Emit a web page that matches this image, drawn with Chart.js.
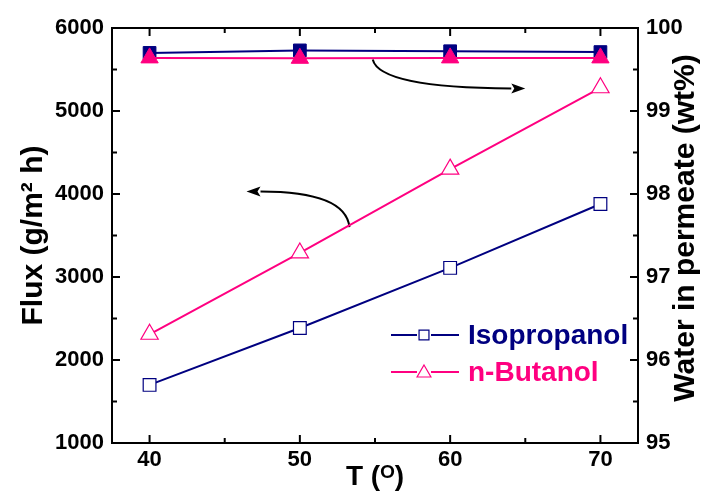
<!DOCTYPE html>
<html>
<head>
<meta charset="utf-8">
<script src="https://cdn.jsdelivr.net/npm/chart.js@4/dist/chart.umd.min.js"></script>
<style>
  html, body { margin: 0; padding: 0; background: #fff; }
  #wrap { width: 702px; height: 494px; }
</style>
</head>
<body>
<div id="wrap"><canvas id="chart" width="702" height="494"></canvas></div>
<script>
// data
const temps = [40, 50, 60, 70];
const xTicks = [40, 50, 60, 70];
const fluxIso = [1700, 2385, 3110, 3880];
const fluxBut = [2310, 3290, 4300, 5280];
const waterIso = [99.70, 99.73, 99.72, 99.71];
const waterBut = [99.64, 99.635, 99.64, 99.64];
const seriesNames = ['Isopropanol', 'n-Butanol'];
const rightTitle = 'Water in permeate (wt%)';

// annotation arrows, in data units [x, y1]: start, control, tip
const arrowWater = [[54.85, 5620], [55.3, 5280], [65.0, 5270]];
const arrowFlux = [[53.3, 3600], [53.05, 4030], [46.45, 4030]];

const NAVY = '#000080';
const PINK = '#ff0080';
const FONT = '"Liberation Sans", Arial, sans-serif';

const pts = ys => temps.map((t, i) => ({ x: t, y: ys[i] }));

// frame, inward ticks, arrows, right title and the in-plot legend
const decor = {
    id: 'decor',
    beforeDatasetsDraw(chart) {
        const { ctx, chartArea: a, scales } = chart;
        ctx.save();
        ctx.strokeStyle = '#000';
        ctx.lineWidth = 2;
        ctx.strokeRect(a.left, a.top, a.right - a.left, a.bottom - a.top);

        const tick = (x1, y1, x2, y2) => {
            ctx.beginPath();
            ctx.moveTo(x1, y1);
            ctx.lineTo(x2, y2);
            ctx.stroke();
        };
        for (let v = 40; v <= 70; v += 5) {
            const px = scales.x.getPixelForValue(v);
            const len = v % 10 === 0 ? 8 : 5;
            tick(px, a.bottom, px, a.bottom - len);
            tick(px, a.top, px, a.top + len);
        }
        for (let v = 1000; v <= 6000; v += 500) {
            const py = scales.y.getPixelForValue(v);
            tick(a.left, py, a.left + (v % 1000 === 0 ? 8 : 5), py);
        }
        for (let v = 95; v <= 100; v += 0.5) {
            const py = scales.y2.getPixelForValue(v);
            tick(a.right, py, a.right - (Number.isInteger(v) ? 8 : 5), py);
        }

        const arrow = (p) => {
            const q = p.map(([x, y]) => [scales.x.getPixelForValue(x), scales.y.getPixelForValue(y)]);
            const ang = Math.atan2(q[2][1] - q[1][1], q[2][0] - q[1][0]);
            const hl = 14, hw = 5;
            const bx = q[2][0] - hl * Math.cos(ang), by = q[2][1] - hl * Math.sin(ang);
            ctx.beginPath();
            ctx.moveTo(q[0][0], q[0][1]);
            ctx.quadraticCurveTo(q[1][0], q[1][1], bx, by);
            ctx.stroke();
            ctx.beginPath();
            ctx.moveTo(q[2][0], q[2][1]);
            ctx.lineTo(bx + hw * Math.sin(ang), by - hw * Math.cos(ang));
            ctx.lineTo(bx + 3 * Math.cos(ang), by + 3 * Math.sin(ang));
            ctx.lineTo(bx - hw * Math.sin(ang), by + hw * Math.cos(ang));
            ctx.closePath();
            ctx.fillStyle = '#000';
            ctx.fill();
        };
        arrow(arrowWater);
        arrow(arrowFlux);
        ctx.restore();
    },
    afterDraw(chart) {
        const { ctx } = chart;
        ctx.save();
        // right axis title reads bottom-to-top
        ctx.translate(686, 228);
        ctx.rotate(-Math.PI / 2);
        ctx.fillStyle = '#000';
        ctx.font = 'bold 30px ' + FONT;
        ctx.textAlign = 'center';
        ctx.textBaseline = 'middle';
        ctx.fillText(rightTitle, 0, 0);
        ctx.restore();

        ctx.save();
        chart.data.datasets.slice(0, 2).forEach((ds, i) => {
            const y = 335 + i * 37;
            ctx.strokeStyle = ds.borderColor;
            ctx.lineWidth = 2;
            ctx.beginPath();
            ctx.moveTo(391, y); ctx.lineTo(417, y);
            ctx.moveTo(431, y); ctx.lineTo(459, y);
            ctx.stroke();
            ctx.fillStyle = '#fff';
            ctx.lineWidth = 1.2;
            Chart.helpers.drawPoint(ctx, {
                pointStyle: ds.pointStyle,
                radius: ds.pointStyle === 'rect' ? 7 : 8,
                borderWidth: 1.2
            }, 424, y + (ds.pointStyle === 'triangle' ? 1 : 0));
            ctx.fillStyle = ds.borderColor;
            ctx.font = 'bold 28px ' + FONT;
            ctx.textAlign = 'left';
            ctx.textBaseline = 'middle';
            ctx.fillText(ds.label, 468, y + 1);
        });
        ctx.restore();
    }
};

const tickFont = { family: FONT, size: 22, weight: 'bold' };

new Chart(document.getElementById('chart'), {
    type: 'line',
    data: {
        datasets: [
            {
                label: seriesNames[0], data: pts(fluxIso), yAxisID: 'y',
                borderColor: NAVY, backgroundColor: '#fff', borderWidth: 2,
                pointStyle: 'rect', pointRadius: 9, pointBorderWidth: 1.2,
                pointBorderColor: NAVY, pointBackgroundColor: '#fff', order: 3
            },
            {
                label: seriesNames[1], data: pts(fluxBut), yAxisID: 'y',
                borderColor: PINK, backgroundColor: '#fff', borderWidth: 2,
                pointStyle: 'triangle', pointRadius: 10, pointBorderWidth: 1.2,
                pointBorderColor: PINK, pointBackgroundColor: '#fff', order: 4
            },
            {
                label: seriesNames[0] + ' water', data: pts(waterIso), yAxisID: 'y2',
                borderColor: NAVY, borderWidth: 2,
                pointStyle: 'rect', pointRadius: 9, pointBorderWidth: 1,
                pointBorderColor: NAVY, pointBackgroundColor: NAVY, order: 2
            },
            {
                label: seriesNames[1] + ' water', data: pts(waterBut), yAxisID: 'y2',
                borderColor: PINK, borderWidth: 2,
                pointStyle: 'triangle', pointRadius: 10, pointBorderWidth: 1,
                pointBorderColor: PINK, pointBackgroundColor: PINK, order: 1
            }
        ]
    },
    options: {
        responsive: false,
        animation: false,
        layout: { padding: { top: 28, left: 0, right: 0, bottom: 0 } },
        plugins: { legend: { display: false }, tooltip: { enabled: false } },
        scales: {
            x: {
                type: 'linear', min: 37.5, max: 72.5,
                afterBuildTicks: s => { s.ticks = xTicks.map(v => ({ value: v })); },
                afterFit: s => { s.height = 51; },
                grid: { display: false, drawTicks: false },
                border: { display: false },
                ticks: { color: '#000', padding: 4, font: tickFont },
                title: {
                    display: true, text: 'T (ᴼ)', color: '#000', padding: { top: 0, bottom: 0 },
                    font: { family: FONT, size: 28, weight: 'bold' }
                }
            },
            y: {
                position: 'left', min: 1000, max: 6000,
                ticks: { stepSize: 1000, color: '#000', padding: 8, font: tickFont, callback: v => String(v) },
                afterFit: s => { s.width = 112; },
                grid: { display: false, drawTicks: false },
                border: { display: false },
                title: {
                    display: true, text: 'Flux (g/m² h)', color: '#000', padding: { top: 16, bottom: 0 },
                    font: { family: FONT, size: 30, weight: 'bold' }
                }
            },
            y2: {
                position: 'right', min: 95, max: 100,
                ticks: { stepSize: 1, color: '#000', padding: 8, font: tickFont },
                afterFit: s => { s.width = 64; },
                grid: { display: false, drawTicks: false },
                border: { display: false },
                title: { display: false }
            }
        }
    },
    plugins: [decor]
});
</script>
</body>
</html>
